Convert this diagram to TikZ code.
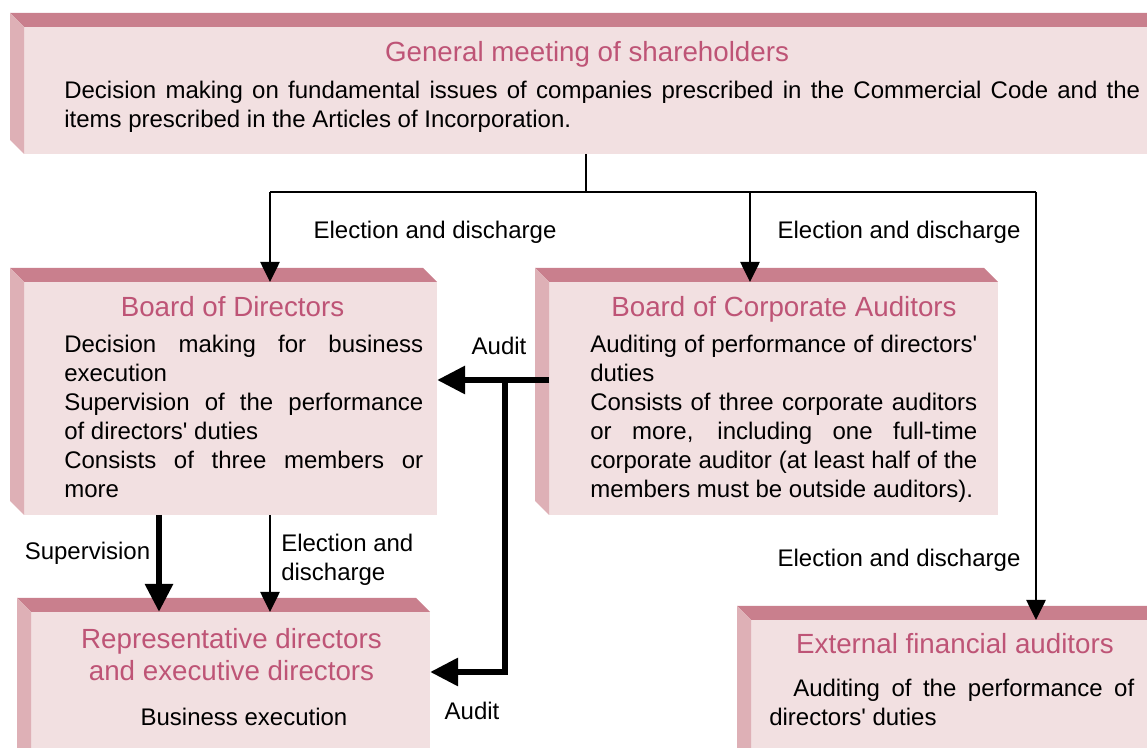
\documentclass[tikz,border=0pt]{standalone}
\usepackage{fontspec}
\setmainfont{Liberation Sans}
\usetikzlibrary{arrows.meta}
\definecolor{boxface}{RGB}{242,224,225}
\definecolor{boxtop}{RGB}{201,127,141}
\definecolor{boxside}{RGB}{222,176,182}
\definecolor{titlered}{RGB}{190,84,118}
\newcommand{\jline}[2]{\makebox[#1][s]{#2}}
\newcommand{\q}{\textquotesingle}
\newcommand{\bevel}[1]{%
	\fill[boxtop] ([shift={(-14,-14)}]#1.north west) -- ([shift={(-14,-14)}]#1.north east) --
	(#1.north east) -- (#1.north west) -- cycle;
	\fill[boxside] ([shift={(-14,-14)}]#1.north west) -- (#1.north west) --
	(#1.south west) -- ([shift={(-14,-14)}]#1.south west) -- cycle;}
\tikzset{
	face/.style={fill=boxface, inner sep=0pt, outer sep=0pt, anchor=north west},
	title/.style={font=\fontsize{20.8}{24}\selectfont, text=titlered, inner sep=0pt, anchor=base, align=center},
	body/.style={font=\fontsize{18}{21.75}\selectfont, inner sep=0pt, anchor=base west, align=left},
	lbl/.style={font=\fontsize{18}{21.75}\selectfont, inner sep=0pt, anchor=base},
	thinline/.style={draw=black, line width=1.1pt},
	thinarr/.style={thinline, -{Triangle[length=15pt,width=14.5pt]}},
	thickarr/.style={draw=black, line width=5pt, -{Triangle[length=21pt,width=20pt]}}
}

\begin{document}
\begin{tikzpicture}[x=0.75pt,y=-0.75pt]
	\useasboundingbox (0,0) rectangle (1147,748);
	% general meeting
	\node[face, minimum width=1137*0.75pt, minimum height=127*0.75pt] (gm) at (24,27) {};
	\bevel{gm}
	\node[title] (gmT) at (587,62) {General meeting of shareholders};
	% (base of a multi-line node = its last line)
	\node[body] (gmB) at (64,127.5) {\jline{807pt}{Decision making on fundamental issues of companies prescribed in the Commercial Code and the}\\
		items prescribed in the Articles of Incorporation.};
	% board of directors
	\node[face, minimum width=413*0.75pt, minimum height=233*0.75pt] (bod) at (24,282) {};
	\bevel{bod}
	\node[title] (bodT) at (232.5,317) {Board of Directors};
	\node[body] (bodB) at (64,498) {\jline{269.25pt}{Decision making for business}\\
		execution\\
		\jline{269.25pt}{Supervision of the performance}\\
		of directors\q\ duties\\
		\jline{269.25pt}{Consists of three members or}\\
		more};
	% board of corporate auditors
	\node[face, minimum width=449*0.75pt, minimum height=233*0.75pt] (bca) at (549,282) {};
	\bevel{bca}
	\node[title] (bcaT) at (784,317) {Board of Corporate Auditors};
	\node[body] (bcaB) at (590,498) {\jline{290.25pt}{Auditing of performance of directors\q}\\
		duties\\
		\jline{290.25pt}{Consists of three corporate auditors}\\
		\jline{290.25pt}{or more, including one full-time}\\
		\jline{290.25pt}{corporate auditor (at least half of the}\\
		members must be outside auditors).};
	% representative directors
	\node[face, minimum width=399*0.75pt, minimum height=150*0.75pt] (rep) at (31,612) {};
	\bevel{rep}
	\node[title] (repT) at (231.5,680) {Representative directors\\and executive directors};
	\node[lbl] (repB) at (244,725) {Business execution};
	% external financial auditors
	\node[face, minimum width=410*0.75pt, minimum height=142*0.75pt] (efa) at (751,620) {};
	\bevel{efa}
	\node[title] (efaT) at (955,653) {External financial auditors};
	\node[body] (efaB) at (769,725) {\hspace*{18pt}\jline{255.75pt}{Auditing of the performance of}\\
		directors\q\ duties};
	% election and discharge
	\coordinate (fork) at (586,192);
	\coordinate (eL) at (270,192);
	\coordinate (eM) at (750,192);
	\coordinate (eR) at (1036,192);
	\draw[thinline] (fork |- gm.south) -- (fork);
	\draw[thinline] (eL) -- (eR);
	\draw[thinarr] (eL) -- (eL |- bod.north);
	\draw[thinarr] (eM) -- (eM |- bca.north);
	\draw[thinarr] (eR) -- (eR |- efa.north);
	\node[lbl] (el1) at (435,239) {Election and discharge};
	\node[lbl] (el2) at (899,239) {Election and discharge};
	\node[lbl] (el3) at (899,567) {Election and discharge};
	% audit
	\coordinate (aJ) at (505,380);
	\coordinate (aB) at (505,672);
	\draw[thickarr] (bca.west |- aJ) -- (bod.east |- aJ);
	\draw[thickarr] (aJ) -- (aB) -- (rep.east |- aB);
	\node[lbl] (au1) at (499,355) {Audit};
	\node[lbl] (au2) at (472,719) {Audit};
	% supervision
	\coordinate (sv) at (159,0);
	\draw[thickarr] (sv |- bod.south) -- (sv |- rep.north);
	\draw[thinarr] (eL |- bod.south) -- (eL |- rep.north);
	\node[lbl] (sup) at (87.5,560) {Supervision};
	\node[body] (el4) at (281,581) {Election and\\discharge};
\end{tikzpicture}
\end{document}
